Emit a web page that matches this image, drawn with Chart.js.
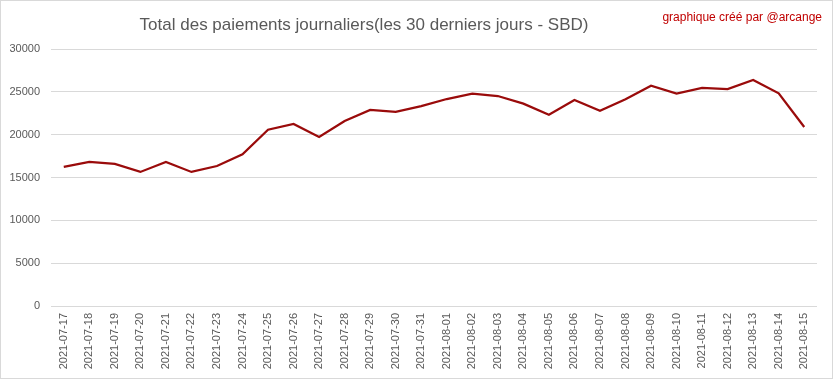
<!DOCTYPE html>
<html>
<head>
<meta charset="utf-8">
<script src="https://cdn.jsdelivr.net/npm/chart.js@4"></script>
<style>
  html, body { margin: 0; padding: 0; background: #ffffff; }
  #wrap { position: relative; width: 833px; height: 379px; box-sizing: border-box; border: 1px solid #d9d9d9; background: #fff; }
  canvas { display: block; }
</style>
</head>
<body>
<div id="wrap"><canvas id="c" width="831" height="377"></canvas></div>
<script>
const titleText = "Total des paiements journaliers(les 30 derniers jours - SBD)";
const creditText = "graphique créé par @arcange";
const categories = [
  "2021-07-17","2021-07-18","2021-07-19","2021-07-20","2021-07-21","2021-07-22",
  "2021-07-23","2021-07-24","2021-07-25","2021-07-26","2021-07-27","2021-07-28",
  "2021-07-29","2021-07-30","2021-07-31","2021-08-01","2021-08-02","2021-08-03",
  "2021-08-04","2021-08-05","2021-08-06","2021-08-07","2021-08-08","2021-08-09",
  "2021-08-10","2021-08-11","2021-08-12","2021-08-13","2021-08-14","2021-08-15"
];
const payments = [
  16230, 16810, 16580, 15650, 16810, 15650,
  16340, 17700, 20580, 21250, 19730, 21600,
  22880, 22650, 23330, 24160, 24790, 24510,
  23620, 22330, 24050, 22800, 24130, 25720,
  24790, 25450, 25330, 26380, 24820, 20900
];
const yTicks = [0, 5000, 10000, 15000, 20000, 25000, 30000];

const textPlugin = {
  id: 'texts',
  afterDraw(chart) {
    const ctx = chart.ctx;
    ctx.save();
    ctx.fillStyle = '#595959';
    ctx.font = '17px "Liberation Sans", Arial, sans-serif';
    ctx.textAlign = 'center';
    ctx.textBaseline = 'alphabetic';
    ctx.fillText(titleText, 363, 29);
    ctx.fillStyle = '#c00000';
    ctx.font = '12px "Liberation Sans", Arial, sans-serif';
    ctx.textAlign = 'right';
    ctx.fillText(creditText, 821, 20);
    ctx.restore();
  }
};

new Chart(document.getElementById('c'), {
  type: 'line',
  data: {
    labels: categories,
    datasets: [{
      data: payments,
      borderColor: '#9a0b0b',
      borderWidth: 2.25,
      pointRadius: 0,
      fill: false,
      tension: 0
    }]
  },
  options: {
    responsive: false,
    animation: false,
    layout: { padding: { left: 0, right: 15, top: 48, bottom: 0 } },
    plugins: { legend: { display: false }, tooltip: { enabled: false }, title: { display: false } },
    scales: {
      x: {
        offset: true,
        grid: { display: false, drawTicks: false },
        border: { display: false },
        ticks: {
          autoSkip: false, minRotation: 90, maxRotation: 90, padding: 7,
          color: '#595959', font: { family: '"Liberation Sans", Arial, sans-serif', size: 11 }
        },
        afterFit(scale) { scale.height = 72; }
      },
      y: {
        min: 0, max: 30000,
        afterBuildTicks(scale) { scale.ticks = yTicks.map(v => ({ value: v })); },
        grid: { color: '#d9d9d9', lineWidth: 1, drawTicks: false },
        border: { display: false },
        ticks: {
          padding: 11, color: '#595959',
          font: { family: '"Liberation Sans", Arial, sans-serif', size: 11 },
          callback: (v) => String(v)
        },
        afterFit(scale) { scale.width = 50; }
      }
    }
  },
  plugins: [textPlugin]
});
</script>
</body>
</html>
